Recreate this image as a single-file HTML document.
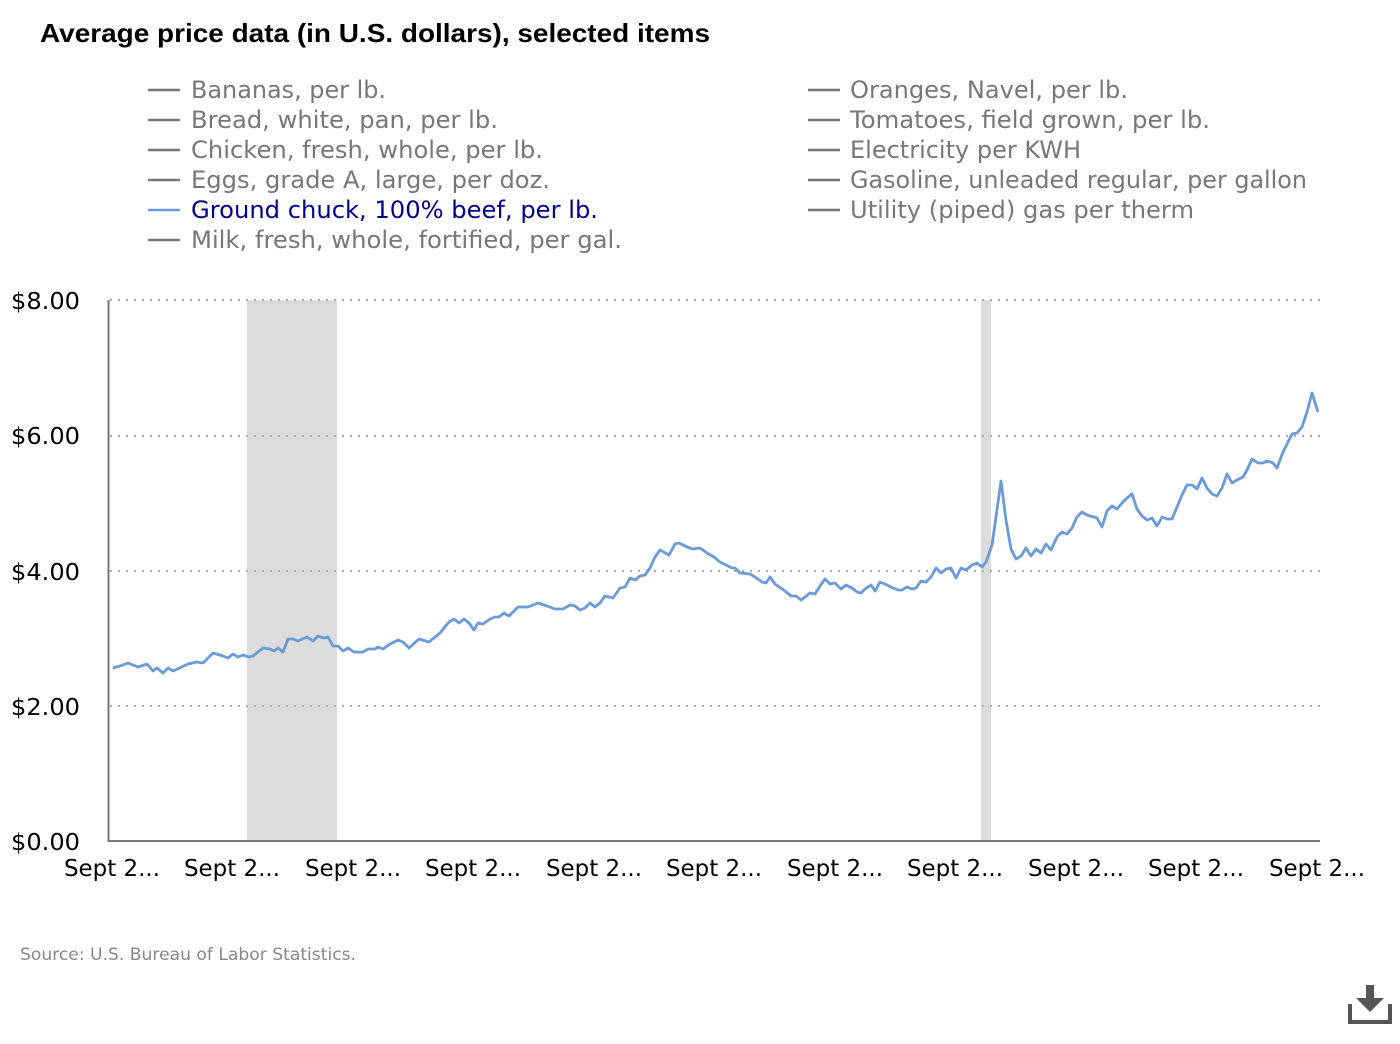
<!DOCTYPE html>
<html><head><meta charset="utf-8"><style>
body{margin:0;background:#fff;width:1400px;height:1040px;overflow:hidden;font-family:"DejaVu Sans",sans-serif}
</style></head><body>
<svg width="1400" height="1040" xmlns="http://www.w3.org/2000/svg" font-family="DejaVu Sans, sans-serif">
<text x="40" y="42" font-size="26" font-weight="bold" fill="#000" font-family="Liberation Sans, sans-serif" textLength="670" lengthAdjust="spacingAndGlyphs">Average price data (in U.S. dollars), selected items</text>
<g font-size="24" fill="#777" lengthAdjust="spacingAndGlyphs">
<g stroke="#777" stroke-width="2.5">
<line x1="148" x2="180" y1="90" y2="90"/><line x1="148" x2="180" y1="120" y2="120"/><line x1="148" x2="180" y1="150" y2="150"/><line x1="148" x2="180" y1="180" y2="180"/><line x1="148" x2="180" y1="240" y2="240"/>
<line x1="808" x2="840" y1="90" y2="90"/><line x1="808" x2="840" y1="120" y2="120"/><line x1="808" x2="840" y1="150" y2="150"/><line x1="808" x2="840" y1="180" y2="180"/><line x1="808" x2="840" y1="210" y2="210"/>
</g>
<line x1="148" x2="180" y1="210" y2="210" stroke="#6a9ad8" stroke-width="2.5"/>
<text x="191" y="98" textLength="195" lengthAdjust="spacingAndGlyphs">Bananas, per lb.</text>
<text x="191" y="128" textLength="307" lengthAdjust="spacingAndGlyphs">Bread, white, pan, per lb.</text>
<text x="191" y="158" textLength="352" lengthAdjust="spacingAndGlyphs">Chicken, fresh, whole, per lb.</text>
<text x="191" y="188" textLength="359" lengthAdjust="spacingAndGlyphs">Eggs, grade A, large, per doz.</text>
<text x="191" y="218" fill="#00008b" textLength="407" lengthAdjust="spacingAndGlyphs">Ground chuck, 100% beef, per lb.</text>
<text x="191" y="248" textLength="431" lengthAdjust="spacingAndGlyphs">Milk, fresh, whole, fortified, per gal.</text>
<text x="850" y="98" textLength="278" lengthAdjust="spacingAndGlyphs">Oranges, Navel, per lb.</text>
<text x="850" y="128" textLength="360" lengthAdjust="spacingAndGlyphs">Tomatoes, field grown, per lb.</text>
<text x="850" y="158" textLength="231" lengthAdjust="spacingAndGlyphs">Electricity per KWH</text>
<text x="850" y="188" textLength="457" lengthAdjust="spacingAndGlyphs">Gasoline, unleaded regular, per gallon</text>
<text x="850" y="218" textLength="344" lengthAdjust="spacingAndGlyphs">Utility (piped) gas per therm</text>
</g>
<rect x="247" y="300" width="90" height="541" fill="#dcdcdc"/>
<rect x="981" y="300" width="10" height="541" fill="#dcdcdc"/>
<g stroke="#aaa" stroke-width="2" stroke-dasharray="2,6">
<line x1="110" x2="1320" y1="300" y2="300"/><line x1="110" x2="1320" y1="436" y2="436"/><line x1="110" x2="1320" y1="571" y2="571"/><line x1="110" x2="1320" y1="706" y2="706"/>
</g>
<line x1="108.5" y1="300" x2="108.5" y2="842" stroke="#777" stroke-width="2"/>
<line x1="108" y1="841" x2="1320" y2="841" stroke="#777" stroke-width="2"/>
<g font-size="23" fill="#000">
<text x="11" y="309" textLength="69" lengthAdjust="spacingAndGlyphs">$8.00</text><text x="11" y="444" textLength="69" lengthAdjust="spacingAndGlyphs">$6.00</text><text x="11" y="580" textLength="69" lengthAdjust="spacingAndGlyphs">$4.00</text><text x="11" y="715" textLength="69" lengthAdjust="spacingAndGlyphs">$2.00</text><text x="11" y="850" textLength="69" lengthAdjust="spacingAndGlyphs">$0.00</text>
</g>
<g font-size="23" fill="#000">
<text x="64" y="876" textLength="96" lengthAdjust="spacingAndGlyphs">Sept 2...</text><text x="184" y="876" textLength="96" lengthAdjust="spacingAndGlyphs">Sept 2...</text><text x="305" y="876" textLength="96" lengthAdjust="spacingAndGlyphs">Sept 2...</text><text x="425" y="876" textLength="96" lengthAdjust="spacingAndGlyphs">Sept 2...</text><text x="546" y="876" textLength="96" lengthAdjust="spacingAndGlyphs">Sept 2...</text><text x="666" y="876" textLength="96" lengthAdjust="spacingAndGlyphs">Sept 2...</text><text x="787" y="876" textLength="96" lengthAdjust="spacingAndGlyphs">Sept 2...</text><text x="907" y="876" textLength="96" lengthAdjust="spacingAndGlyphs">Sept 2...</text><text x="1028" y="876" textLength="96" lengthAdjust="spacingAndGlyphs">Sept 2...</text><text x="1148" y="876" textLength="96" lengthAdjust="spacingAndGlyphs">Sept 2...</text><text x="1269" y="876" textLength="96" lengthAdjust="spacingAndGlyphs">Sept 2...</text>
</g>
<polyline fill="none" stroke="#6a9ad8" stroke-width="2.8" stroke-linejoin="round" points="113,668 120,666 128,663 138,667 147,664 153,671 157,668 163,673 168,668 173,671 188,664 197,662 203,663 213,653 223,656 228,658 233,654 238,657 243,655 249,657 253,656 263,648 270,649 274,651 278,648 283,652 288,639 293,639 298,641 307,637 313,641 318,636 323,638 328,637 333,646 338,646 343,651 348,648 354,652 363,652 368,649 375,649 378,647 383,649 390,644 398,640 403,642 409,648 419,639 429,642 440,633 449,622 454,619 459,623 464,619 469,623 474,630 478,623 483,624 490,619 495,617 499,617 504,613 509,616 518,607 528,607 538,603 547,606 555,609 563,609 570,605 575,606 580,610 585,608 590,603 595,607 600,603 605,596 613,598 620,588 625,587 630,578 635,580 640,576 645,575 650,568 655,557 660,550 669,555 675,544 679,543 687,547 693,549 700,548 707,553 714,557 720,562 732,568 735,568 740,573 750,574 755,577 762,582 766,583 770,577 775,584 785,591 791,596 796,596 801,600 805,597 810,593 815,594 820,586 825,579 830,584 835,583 841,589 846,585 852,588 857,592 861,593 865,589 871,585 875,591 880,582 887,585 893,588 898,590 902,590 907,587 912,589 916,588 921,581 926,582 931,577 936,568 941,573 946,569 951,568 956,578 961,568 966,570 972,565 977,563 982,567 986,562 992,545 996,517 1001,481 1006,520 1011,549 1016,559 1021,556 1026,548 1031,556 1036,549 1041,553 1046,544 1051,550 1057,537 1062,532 1067,534 1072,528 1077,517 1082,512 1087,515 1097,518 1102,527 1107,511 1112,506 1117,509 1122,503 1127,498 1132,494 1137,509 1142,516 1147,520 1152,518 1157,526 1162,517 1167,519 1172,519 1177,507 1182,495 1187,485 1192,485 1197,489 1202,478 1207,488 1212,494 1217,496 1222,488 1227,474 1232,483 1237,480 1243,477 1247,470 1252,459 1258,463 1263,463 1267,461 1273,463 1277,468 1283,452 1287,444 1292,434 1297,433 1302,427 1307,412 1312,393 1318,412"/>
<text x="20" y="960" font-size="17" fill="#888" textLength="336" lengthAdjust="spacingAndGlyphs">Source: U.S. Bureau of Labor Statistics.</text>
<g fill="#555">
<rect x="1366" y="985" width="8" height="14"/>
<polygon points="1356,998 1384,998 1370,1012"/>
<rect x="1348" y="1004" width="4" height="20"/>
<rect x="1388" y="1004" width="4" height="20"/>
<rect x="1348" y="1020" width="44" height="4"/>
</g>
</svg>
</body></html>
